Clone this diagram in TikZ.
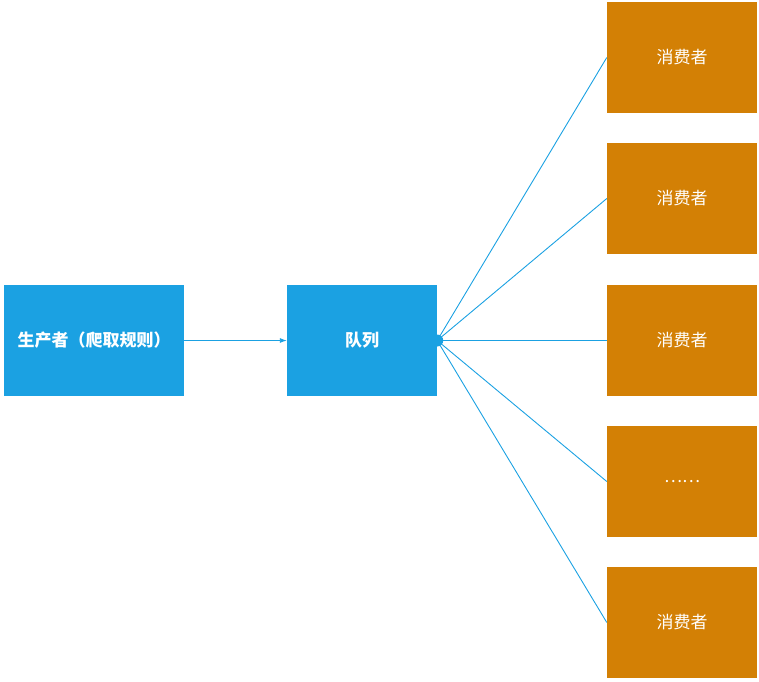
\documentclass[tikz,border=0pt]{standalone}
\usepackage{fontspec}
\newfontfamily\cjk{Noto Sans CJK SC}
\usetikzlibrary{arrows.meta}
\definecolor{bl}{HTML}{1BA1E2}
\definecolor{og}{HTML}{D38005}
\begin{document}
\begin{tikzpicture}[x=1pt,y=-1pt,
  bluebox/.style={fill=bl,minimum width=180pt,minimum height=111pt,inner sep=0,text=white,font=\cjk\fontsize{17}{20}\selectfont\bfseries},
  cons/.style={fill=og,minimum width=150pt,minimum height=111pt,inner sep=0,text=white,font=\cjk\fontsize{17}{20}\selectfont},
  link/.style={draw=bl,line width=0.9pt}]
\useasboundingbox (0,0) rectangle (759,681);
\node[bluebox] (p) at (94,340.5) {生产者（爬取规则）};
\node[bluebox,minimum width=150pt] (q) at (362,340.5) {队列};
\node[cons] (c1) at (682,57.5) {消费者};
\node[cons] (c2) at (682,198.5) {消费者};
\node[cons] (c3) at (682,340.5) {消费者};
\node[cons] (c4) at (682,481.5) {……};
\node[cons] (c5) at (682,622.5) {消费者};
\draw[link,-{Latex[length=7pt,width=5pt]}] (p.east) -- (q.west);
\begin{scope}
\clip ([yshift=-8pt]q.east) rectangle ([xshift=8pt,yshift=8pt]q.east);
\fill[bl] (q.east) circle[radius=6];
\end{scope}
\foreach \c in {c1,c2,c3,c4,c5} \draw[link] (q.east) -- (\c.west);
\end{tikzpicture}
\end{document}
